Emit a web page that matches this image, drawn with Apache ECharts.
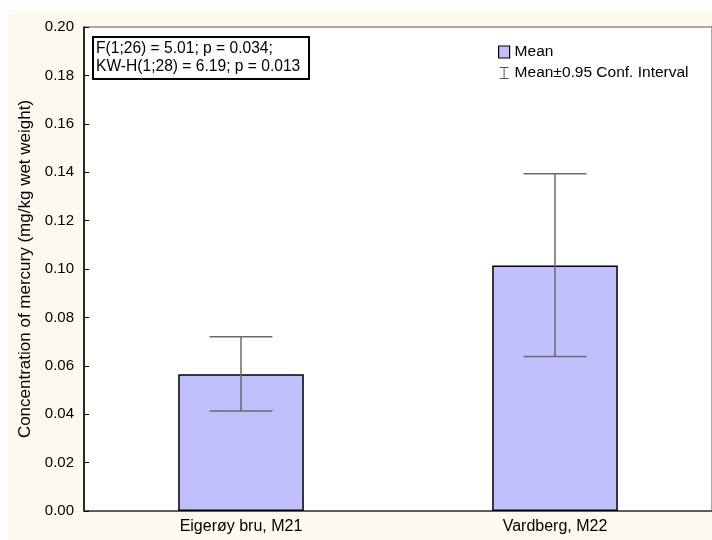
<!DOCTYPE html>
<html>
<head>
<meta charset="utf-8">
<script src="https://cdn.jsdelivr.net/npm/echarts@6/dist/echarts.min.js"></script>
<style>
  html, body { margin: 0; padding: 0; background: #ffffff; }
  #chart { width: 712px; height: 540px; }
</style>
</head>
<body>
<div id="chart"></div>
<script>
// Mercury concentration per station: mean with 0.95 confidence interval
const categories = ['Eigerøy bru, M21', 'Vardberg, M22'];
const meanValues = [0.0565, 0.1014];
const ciLower = [0.0413, 0.0638];
const ciUpper = [0.0720, 0.1394];
const yTicks = { min: 0, max: 0.2, interval: 0.02 };
const statsLines = ['F(1;26) = 5.01; p = 0.034;', 'KW-H(1;28) = 6.19; p = 0.013'];

const FONT = '"Liberation Sans", Arial, sans-serif';
const chart = echarts.init(document.getElementById('chart'), null, { renderer: 'canvas' });

const errorData = categories.map((c, i) => [i, ciLower[i], ciUpper[i]]);

chart.setOption({
  animation: false,
  backgroundColor: '#ffffff',
  textStyle: { fontFamily: FONT },
  grid: {
    left: 84, top: 27, right: -4, bottom: 29,
    show: true, backgroundColor: '#ffffff',
    borderColor: '#555555', borderWidth: 1
  },
  legend: {
    left: 493, top: 39, orient: 'vertical',
    itemWidth: 11, itemHeight: 12, itemGap: 5,
    textStyle: { fontFamily: FONT, fontSize: 15.5, color: '#000' },
    selectedMode: false,
    data: [
      { name: 'Mean', icon: 'rect',
        itemStyle: { color: '#c0c0ff', borderColor: '#000', borderWidth: 1.2 } },
      { name: 'Mean±0.95 Conf. Interval',
        icon: 'path://M1,0H10V1H6V11H10V12H1V11H5V1H1Z',
        itemStyle: { color: '#555555' } }
    ]
  },
  xAxis: {
    type: 'category',
    data: categories,
    axisLine: { lineStyle: { color: '#444', width: 1.5 } },
    axisTick: { inside: true, alignWithLabel: true, length: 3, lineStyle: { color: '#666' } },
    axisLabel: { fontFamily: FONT, fontSize: 16, color: '#000', margin: 8 }
  },
  yAxis: {
    type: 'value',
    min: yTicks.min, max: yTicks.max, interval: yTicks.interval,
    name: 'Concentration of mercury (mg/kg wet weight)',
    nameLocation: 'middle', nameGap: 47,
    nameTextStyle: { fontFamily: FONT, fontSize: 17, color: '#000' },
    axisLine: { show: true, lineStyle: { color: '#000', width: 1.5 } },
    axisTick: { show: true, inside: true, length: 5, lineStyle: { color: '#000' } },
    axisLabel: { fontFamily: FONT, fontSize: 15, color: '#000', margin: 10,
      formatter: v => v.toFixed(2) },
    splitLine: { show: false }
  },
  series: [
    {
      name: 'Mean', type: 'bar', data: meanValues, barWidth: '40%',
      itemStyle: { color: '#c0c0ff', borderColor: '#000', borderWidth: 1.5 },
      z: 2
    },
    {
      name: 'Mean±0.95 Conf. Interval', type: 'custom', data: errorData, z: 3,
      renderItem: function (params, api) {
        const x = api.value(0);
        const lo = api.coord([x, api.value(1)]);
        const hi = api.coord([x, api.value(2)]);
        const half = api.size([1, 0])[0] * 0.1;
        const style = { stroke: '#6a6a6a', lineWidth: 1.5 };
        return {
          type: 'group',
          children: [
            { type: 'line', shape: { x1: hi[0], y1: hi[1], x2: lo[0], y2: lo[1] }, style },
            { type: 'line', shape: { x1: hi[0] - half, y1: hi[1], x2: hi[0] + half, y2: hi[1] }, style },
            { type: 'line', shape: { x1: lo[0] - half, y1: lo[1], x2: lo[0] + half, y2: lo[1] }, style }
          ]
        };
      }
    }
  ],
  graphic: [
    { type: 'rect', z: -10, silent: true,
      shape: { x: 8, y: 10, width: 704, height: 530 },
      style: { fill: '#fdf9ee' } },
    { type: 'rect', z: 10, silent: true,
      shape: { x: 93, y: 37, width: 216, height: 42 },
      style: { fill: '#ffffff', stroke: '#000', lineWidth: 2 } },
    { type: 'text', z: 11, silent: true, left: 96, top: 40,
      style: { text: statsLines.join('\n'), fontFamily: FONT, fontSize: 15.6,
        lineHeight: 18, fill: '#000' } }
  ]
});
</script>
</body>
</html>
